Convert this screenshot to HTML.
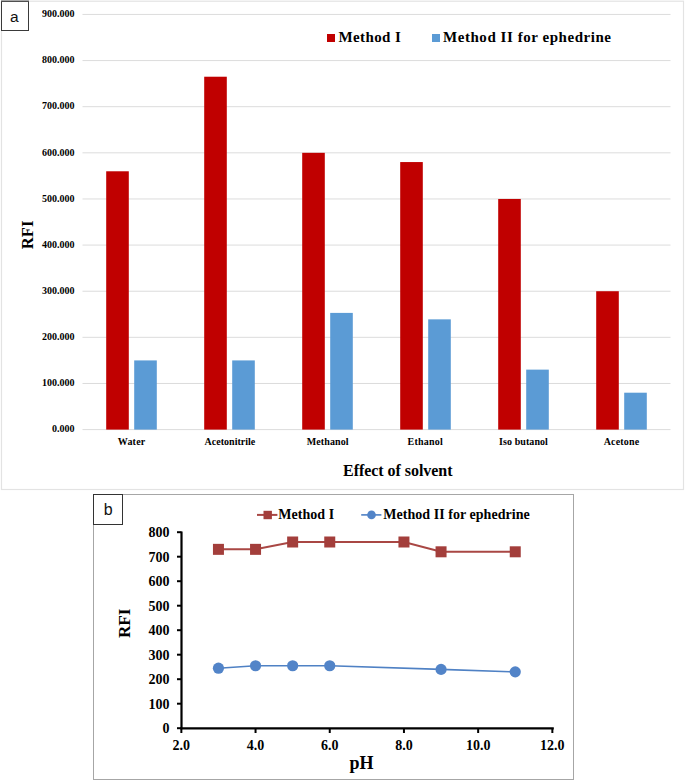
<!DOCTYPE html><html><head><meta charset="utf-8"><style>html,body{margin:0;padding:0;background:#fff;}svg{display:block;}</style></head><body>
<svg width="685" height="781" viewBox="0 0 685 781">
<rect x="0" y="0" width="685" height="781" fill="#fff"/>
<rect x="1.5" y="1.2" width="682" height="488.3" fill="none" stroke="#e3e3e3" stroke-width="1.2"/>
<line x1="82.5" y1="429.60" x2="670.5" y2="429.60" stroke="#dcdcdc" stroke-width="1"/>
<line x1="82.5" y1="383.47" x2="670.5" y2="383.47" stroke="#dcdcdc" stroke-width="1"/>
<line x1="82.5" y1="337.34" x2="670.5" y2="337.34" stroke="#dcdcdc" stroke-width="1"/>
<line x1="82.5" y1="291.22" x2="670.5" y2="291.22" stroke="#dcdcdc" stroke-width="1"/>
<line x1="82.5" y1="245.09" x2="670.5" y2="245.09" stroke="#dcdcdc" stroke-width="1"/>
<line x1="82.5" y1="198.96" x2="670.5" y2="198.96" stroke="#dcdcdc" stroke-width="1"/>
<line x1="82.5" y1="152.83" x2="670.5" y2="152.83" stroke="#dcdcdc" stroke-width="1"/>
<line x1="82.5" y1="106.70" x2="670.5" y2="106.70" stroke="#dcdcdc" stroke-width="1"/>
<line x1="82.5" y1="60.58" x2="670.5" y2="60.58" stroke="#dcdcdc" stroke-width="1"/>
<line x1="82.5" y1="14.45" x2="670.5" y2="14.45" stroke="#dcdcdc" stroke-width="1"/>
<text x="74.5" y="432.30" font-family="'Liberation Serif', serif" font-weight="bold" font-size="10" text-anchor="end" fill="#000">0.000</text>
<text x="74.5" y="386.17" font-family="'Liberation Serif', serif" font-weight="bold" font-size="10" text-anchor="end" fill="#000">100.000</text>
<text x="74.5" y="340.04" font-family="'Liberation Serif', serif" font-weight="bold" font-size="10" text-anchor="end" fill="#000">200.000</text>
<text x="74.5" y="293.92" font-family="'Liberation Serif', serif" font-weight="bold" font-size="10" text-anchor="end" fill="#000">300.000</text>
<text x="74.5" y="247.79" font-family="'Liberation Serif', serif" font-weight="bold" font-size="10" text-anchor="end" fill="#000">400.000</text>
<text x="74.5" y="201.66" font-family="'Liberation Serif', serif" font-weight="bold" font-size="10" text-anchor="end" fill="#000">500.000</text>
<text x="74.5" y="155.53" font-family="'Liberation Serif', serif" font-weight="bold" font-size="10" text-anchor="end" fill="#000">600.000</text>
<text x="74.5" y="109.40" font-family="'Liberation Serif', serif" font-weight="bold" font-size="10" text-anchor="end" fill="#000">700.000</text>
<text x="74.5" y="63.28" font-family="'Liberation Serif', serif" font-weight="bold" font-size="10" text-anchor="end" fill="#000">800.000</text>
<text x="74.5" y="17.15" font-family="'Liberation Serif', serif" font-weight="bold" font-size="10" text-anchor="end" fill="#000">900.000</text>
<rect x="106.2" y="171.28" width="22.6" height="258.32" fill="#c00000"/>
<rect x="134.2" y="360.41" width="22.6" height="69.19" fill="#5b9bd5"/>
<rect x="204.2" y="76.72" width="22.6" height="352.88" fill="#c00000"/>
<rect x="232.2" y="360.41" width="22.6" height="69.19" fill="#5b9bd5"/>
<rect x="302.2" y="152.83" width="22.6" height="276.77" fill="#c00000"/>
<rect x="330.2" y="312.90" width="22.6" height="116.70" fill="#5b9bd5"/>
<rect x="400.2" y="162.06" width="22.6" height="267.54" fill="#c00000"/>
<rect x="428.2" y="319.35" width="22.6" height="110.25" fill="#5b9bd5"/>
<rect x="498.2" y="198.96" width="22.6" height="230.64" fill="#c00000"/>
<rect x="526.2" y="369.63" width="22.6" height="59.97" fill="#5b9bd5"/>
<rect x="596.2" y="291.22" width="22.6" height="138.38" fill="#c00000"/>
<rect x="624.2" y="392.70" width="22.6" height="36.90" fill="#5b9bd5"/>
<text x="117.70" y="444.7" font-family="'Liberation Serif', serif" font-weight="bold" font-size="10" textLength="27.60" lengthAdjust="spacing" fill="#000">Water</text>
<text x="204.60" y="444.7" font-family="'Liberation Serif', serif" font-weight="bold" font-size="10" textLength="50.70" lengthAdjust="spacing" fill="#000">Acetonitrile</text>
<text x="306.70" y="444.7" font-family="'Liberation Serif', serif" font-weight="bold" font-size="10" textLength="41.90" lengthAdjust="spacing" fill="#000">Methanol</text>
<text x="407.50" y="444.7" font-family="'Liberation Serif', serif" font-weight="bold" font-size="10" textLength="35.30" lengthAdjust="spacing" fill="#000">Ethanol</text>
<text x="499.10" y="444.7" font-family="'Liberation Serif', serif" font-weight="bold" font-size="10" textLength="48.80" lengthAdjust="spacing" fill="#000">Iso butanol</text>
<text x="603.70" y="444.7" font-family="'Liberation Serif', serif" font-weight="bold" font-size="10" textLength="35.40" lengthAdjust="spacing" fill="#000">Acetone</text>
<rect x="327" y="34" width="8" height="8" fill="#c00000"/>
<text x="338.4" y="42" font-family="'Liberation Serif', serif" font-weight="bold" font-size="15" textLength="62.4" lengthAdjust="spacing" fill="#000">Method I</text>
<rect x="432" y="34" width="8" height="8" fill="#5b9bd5"/>
<text x="443" y="42" font-family="'Liberation Serif', serif" font-weight="bold" font-size="15" textLength="168" lengthAdjust="spacing" fill="#000">Method II for ephedrine</text>
<text x="343" y="476" font-family="'Liberation Serif', serif" font-weight="bold" font-size="16" textLength="109.5" lengthAdjust="spacing" fill="#000">Effect of solvent</text>
<text transform="translate(33.1,234.9) rotate(-90)" text-anchor="middle" font-family="'Liberation Serif', serif" font-weight="bold" font-size="16.6" fill="#000">RFI</text>
<rect x="1.5" y="1.5" width="27" height="29" fill="#fff" stroke="#3a3a3a" stroke-width="1"/>
<line x1="1" y1="0.6" x2="29" y2="0.6" stroke="#a8a8a8" stroke-width="1.2"/>
<text x="14.4" y="22.2" text-anchor="middle" font-family="'Liberation Sans', sans-serif" font-size="15.5" fill="#111">a</text>
<rect x="93.5" y="494.5" width="480" height="285" fill="#fff" stroke="#a6a6a6" stroke-width="1"/>
<rect x="93.5" y="494.5" width="29" height="30" fill="#fff" stroke="#333" stroke-width="1"/>
<text x="108.3" y="515.2" text-anchor="middle" font-family="'Liberation Sans', sans-serif" font-size="16" fill="#111">b</text>
<line x1="181.5" y1="531.5" x2="181.5" y2="729.2" stroke="#000" stroke-width="2.2"/>
<line x1="180.4" y1="728.3" x2="553.8" y2="728.3" stroke="#000" stroke-width="2.2"/>
<line x1="177" y1="728.20" x2="181.5" y2="728.20" stroke="#000" stroke-width="2"/>
<text x="169.4" y="733.10" text-anchor="end" font-family="'Liberation Serif', serif" font-weight="bold" font-size="14" fill="#000">0</text>
<line x1="177" y1="703.70" x2="181.5" y2="703.70" stroke="#000" stroke-width="2"/>
<text x="169.4" y="708.60" text-anchor="end" font-family="'Liberation Serif', serif" font-weight="bold" font-size="14" fill="#000">100</text>
<line x1="177" y1="679.20" x2="181.5" y2="679.20" stroke="#000" stroke-width="2"/>
<text x="169.4" y="684.10" text-anchor="end" font-family="'Liberation Serif', serif" font-weight="bold" font-size="14" fill="#000">200</text>
<line x1="177" y1="654.70" x2="181.5" y2="654.70" stroke="#000" stroke-width="2"/>
<text x="169.4" y="659.60" text-anchor="end" font-family="'Liberation Serif', serif" font-weight="bold" font-size="14" fill="#000">300</text>
<line x1="177" y1="630.20" x2="181.5" y2="630.20" stroke="#000" stroke-width="2"/>
<text x="169.4" y="635.10" text-anchor="end" font-family="'Liberation Serif', serif" font-weight="bold" font-size="14" fill="#000">400</text>
<line x1="177" y1="605.70" x2="181.5" y2="605.70" stroke="#000" stroke-width="2"/>
<text x="169.4" y="610.60" text-anchor="end" font-family="'Liberation Serif', serif" font-weight="bold" font-size="14" fill="#000">500</text>
<line x1="177" y1="581.20" x2="181.5" y2="581.20" stroke="#000" stroke-width="2"/>
<text x="169.4" y="586.10" text-anchor="end" font-family="'Liberation Serif', serif" font-weight="bold" font-size="14" fill="#000">600</text>
<line x1="177" y1="556.70" x2="181.5" y2="556.70" stroke="#000" stroke-width="2"/>
<text x="169.4" y="561.60" text-anchor="end" font-family="'Liberation Serif', serif" font-weight="bold" font-size="14" fill="#000">700</text>
<line x1="177" y1="532.20" x2="181.5" y2="532.20" stroke="#000" stroke-width="2"/>
<text x="169.4" y="537.10" text-anchor="end" font-family="'Liberation Serif', serif" font-weight="bold" font-size="14" fill="#000">800</text>
<line x1="181.35" y1="728.3" x2="181.35" y2="733" stroke="#000" stroke-width="2"/>
<text x="181.35" y="750" text-anchor="middle" font-family="'Liberation Serif', serif" font-weight="bold" font-size="14" fill="#000">2.0</text>
<line x1="255.55" y1="728.3" x2="255.55" y2="733" stroke="#000" stroke-width="2"/>
<text x="255.55" y="750" text-anchor="middle" font-family="'Liberation Serif', serif" font-weight="bold" font-size="14" fill="#000">4.0</text>
<line x1="329.75" y1="728.3" x2="329.75" y2="733" stroke="#000" stroke-width="2"/>
<text x="329.75" y="750" text-anchor="middle" font-family="'Liberation Serif', serif" font-weight="bold" font-size="14" fill="#000">6.0</text>
<line x1="403.95" y1="728.3" x2="403.95" y2="733" stroke="#000" stroke-width="2"/>
<text x="403.95" y="750" text-anchor="middle" font-family="'Liberation Serif', serif" font-weight="bold" font-size="14" fill="#000">8.0</text>
<line x1="478.15" y1="728.3" x2="478.15" y2="733" stroke="#000" stroke-width="2"/>
<text x="478.15" y="750" text-anchor="middle" font-family="'Liberation Serif', serif" font-weight="bold" font-size="14" fill="#000">10.0</text>
<line x1="552.35" y1="728.3" x2="552.35" y2="733" stroke="#000" stroke-width="2"/>
<text x="552.35" y="750" text-anchor="middle" font-family="'Liberation Serif', serif" font-weight="bold" font-size="14" fill="#000">12.0</text>
<polyline points="218.45,549.35 255.55,549.35 292.65,542.00 329.75,542.00 403.95,542.00 441.05,551.80 515.25,551.80" fill="none" stroke="#a94744" stroke-width="2"/>
<rect x="212.95" y="543.85" width="11" height="11" fill="#a33e3b"/>
<rect x="250.05" y="543.85" width="11" height="11" fill="#a33e3b"/>
<rect x="287.15" y="536.50" width="11" height="11" fill="#a33e3b"/>
<rect x="324.25" y="536.50" width="11" height="11" fill="#a33e3b"/>
<rect x="398.45" y="536.50" width="11" height="11" fill="#a33e3b"/>
<rect x="435.55" y="546.30" width="11" height="11" fill="#a33e3b"/>
<rect x="509.75" y="546.30" width="11" height="11" fill="#a33e3b"/>
<polyline points="218.45,668.18 255.55,665.73 292.65,665.73 329.75,665.73 441.05,669.40 515.25,671.85" fill="none" stroke="#4f81c4" stroke-width="1.6"/>
<circle cx="218.45" cy="668.18" r="5.6" fill="#5284c8"/>
<circle cx="255.55" cy="665.73" r="5.6" fill="#5284c8"/>
<circle cx="292.65" cy="665.73" r="5.6" fill="#5284c8"/>
<circle cx="329.75" cy="665.73" r="5.6" fill="#5284c8"/>
<circle cx="441.05" cy="669.40" r="5.6" fill="#5284c8"/>
<circle cx="515.25" cy="671.85" r="5.6" fill="#5284c8"/>
<line x1="257" y1="514.9" x2="277.4" y2="514.9" stroke="#a94744" stroke-width="2"/>
<rect x="263.5" y="510.8" width="8.4" height="8.4" fill="#a33e3b"/>
<text x="278.3" y="519.3" font-family="'Liberation Serif', serif" font-weight="bold" font-size="14" textLength="55.8" lengthAdjust="spacing" fill="#000">Method I</text>
<line x1="361.2" y1="514.9" x2="381.4" y2="514.9" stroke="#4f81c4" stroke-width="1.6"/>
<circle cx="371.5" cy="514.9" r="4.3" fill="#5284c8"/>
<text x="383.3" y="519.3" font-family="'Liberation Serif', serif" font-weight="bold" font-size="14" textLength="146.4" lengthAdjust="spacing" fill="#000">Method II for ephedrine</text>
<text transform="translate(129.5,623.3) rotate(-90)" text-anchor="middle" font-family="'Liberation Serif', serif" font-weight="bold" font-size="17.2" fill="#000">RFI</text>
<text x="349.6" y="768.6" font-family="'Liberation Serif', serif" font-weight="bold" font-size="18" textLength="23.9" lengthAdjust="spacing" fill="#000">pH</text>
</svg></body></html>
